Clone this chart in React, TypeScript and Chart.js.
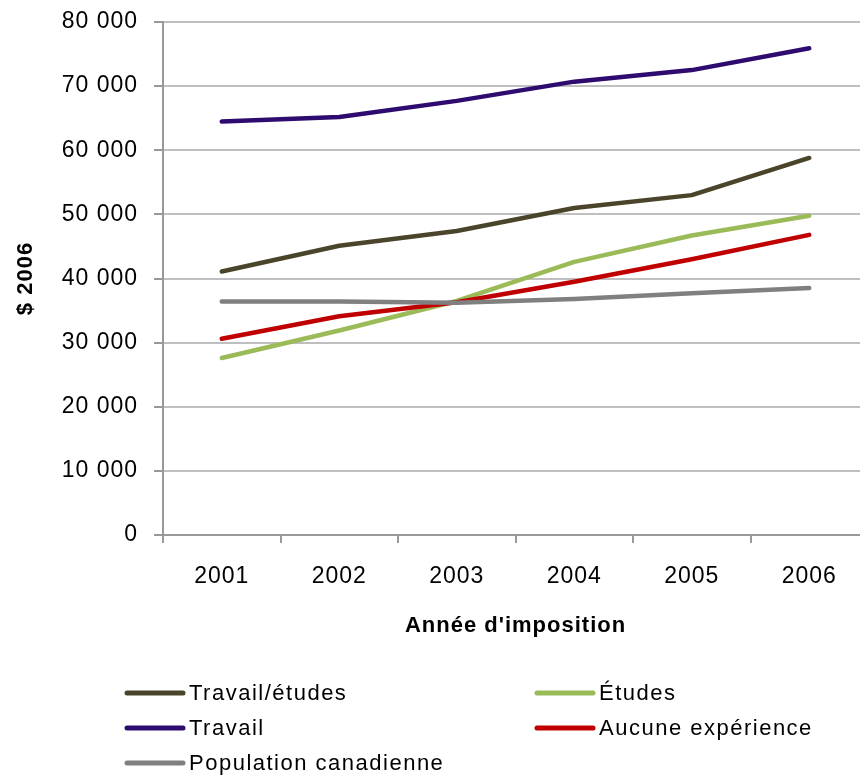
import React, { useEffect, useRef } from "react";
import { Chart, registerables } from "chart.js";

Chart.register(...registerables);

const years = ["2001", "2002", "2003", "2004", "2005", "2006"];
const travailEtudes = [41100, 45100, 47400, 51000, 53000, 58800];
const etudes = [27600, 31900, 36500, 42600, 46700, 49800];
const travail = [64500, 65200, 67700, 70700, 72500, 75900];
const aucuneExperience = [30600, 34100, 36300, 39500, 43000, 46800];
const populationCanadienne = [36400, 36400, 36200, 36800, 37700, 38500];

const seriesNames = ["Travail/études", "Études", "Travail", "Aucune expérience", "Population canadienne"];
const seriesColors = ["#4a452a", "#9bbb59", "#2e0b6e", "#c00000", "#808080"];
const yTitle = "$ 2006";
const xTitle = "Année d'imposition";

const FONT = "'Liberation Sans', Arial, sans-serif";
const SPACING = "1px";

const spacingPlugin = {
  id: "spacing",
  beforeUpdate(chart: any) { chart.ctx.letterSpacing = SPACING; },
  beforeLayout(chart: any) { chart.ctx.letterSpacing = SPACING; },
  beforeDraw(chart: any) { chart.ctx.letterSpacing = SPACING; },
};

const legendPlugin = {
  id: "gridLegend",
  afterDraw(chart: any) {
    const ctx = chart.ctx;
    const cols = [125, 535];
    const rows = [693, 728, 763];
    ctx.save();
    ctx.letterSpacing = "1.5px";
    ctx.font = `22px ${FONT}`;
    ctx.textBaseline = "middle";
    ctx.textAlign = "left";
    chart.data.datasets.forEach((ds: any, i: number) => {
      const x = cols[i % 2];
      const y = rows[Math.floor(i / 2)];
      ctx.strokeStyle = ds.borderColor;
      ctx.lineWidth = 5;
      ctx.lineCap = "round";
      ctx.beginPath();
      ctx.moveTo(x + 2, y);
      ctx.lineTo(x + 58, y);
      ctx.stroke();
      ctx.fillStyle = "#000";
      ctx.fillText(ds.label, x + 64, y + 1);
    });
    ctx.restore();
  },
};

export default function App() {
  const ref = useRef<HTMLCanvasElement>(null);
  useEffect(() => {
    if (!ref.current) return;
    const dataArrays = [travailEtudes, etudes, travail, aucuneExperience, populationCanadienne];
    const chart = new Chart(ref.current, {
      type: "line",
      data: {
        labels: years,
        datasets: dataArrays.map((d, i) => ({
          label: seriesNames[i],
          data: d,
          borderColor: seriesColors[i],
          backgroundColor: seriesColors[i],
          borderWidth: 4.5,
          borderCapStyle: "round",
          borderJoinStyle: "round",
          pointRadius: 0,
          tension: 0,
          fill: false,
          order: -i,
        })),
      },
      options: {
        animation: false,
        responsive: false,
        devicePixelRatio: 1,
        layout: { padding: { top: 22, left: 0, right: 4, bottom: 136 } },
        plugins: { legend: { display: false }, tooltip: { enabled: false } },
        scales: {
          x: {
            type: "category",
            offset: true,
            grid: { offset: true, drawOnChartArea: false, tickLength: 8, tickColor: "#999", lineWidth: 2 },
            border: { color: "#999", width: 2 },
            ticks: { color: "#000", font: { family: FONT, size: 23 }, padding: 20, maxRotation: 0 },
            title: { display: true, text: xTitle, color: "#000", font: { family: FONT, size: 22, weight: "bold" }, padding: { top: 0, bottom: 6 } },
            afterFit: (s: any) => { s.height = 110; },
          },
          y: {
            min: 0,
            max: 80000,
            grid: { color: "#bfbfbf", lineWidth: 2, tickLength: 9, tickColor: "#999" },
            border: { color: "#999", width: 2 },
            ticks: {
              stepSize: 10000,
              color: "#000",
              font: { family: FONT, size: 23 },
              padding: 16,
              callback: (v: any) => {
                const n = Number(v);
                if (n === 0) return "0";
                const th = Math.floor(n / 1000);
                return `${th} 000`;
              },
            },
            title: { display: true, text: yTitle, color: "#000", font: { family: FONT, size: 22, weight: "bold" }, padding: { top: 13, bottom: 0 } },
            afterFit: (s: any) => { s.width = 163; s.paddingTop = 10; s.paddingBottom = 10; },
          },
        },
      },
      plugins: [spacingPlugin, legendPlugin],
    } as any);
    return () => chart.destroy();
  }, []);
  return (
    <div style={{ position: "fixed", left: 0, top: 0, width: 860, height: 781, overflow: "hidden", background: "#fff" }}>
      <canvas ref={ref} width={872} height={781} style={{ display: "block", width: 872, height: 781 }} />
    </div>
  );
}
